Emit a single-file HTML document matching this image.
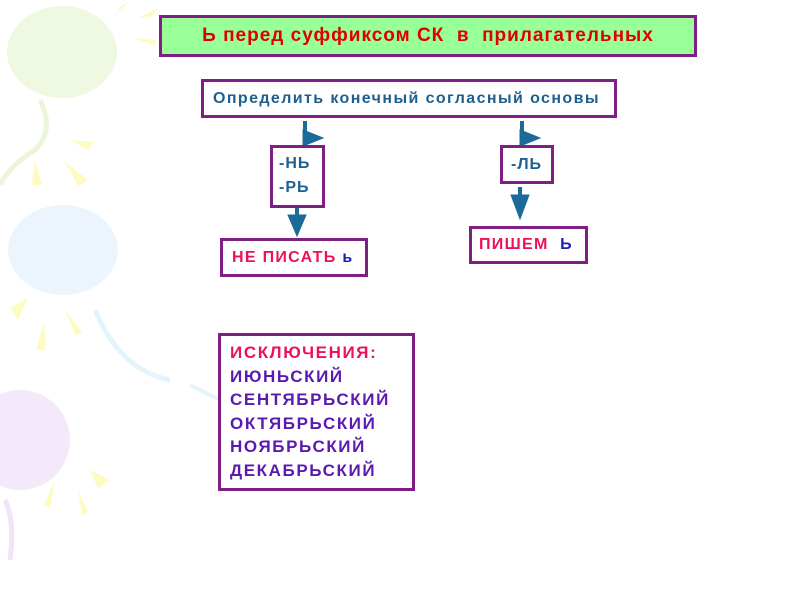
<!DOCTYPE html>
<html><head><meta charset="utf-8"><style>
body{margin:0;width:800px;height:600px;background:#fff;position:relative;overflow:hidden;font-family:"Liberation Sans","DejaVu Sans",sans-serif;font-weight:bold}
.b{position:absolute;box-sizing:border-box;border:3px solid #7f1f85;background:#fff;white-space:nowrap}
</style></head><body>
<svg width="800" height="600" style="position:absolute;left:0;top:0">
<g opacity="0.9">
<ellipse cx="62" cy="52" rx="55" ry="46" fill="#eef8de"/>
<path d="M40 100 Q55 130 35 150 Q10 165 0 185" stroke="#e8f4d6" stroke-width="5" fill="none"/>
<ellipse cx="63" cy="250" rx="55" ry="45" fill="#eaf5fd"/>
<path d="M95 310 Q120 370 170 380" stroke="#e3f2fc" stroke-width="5" fill="none"/>
<path d="M190 385 Q210 395 230 405" stroke="#e3f2fc" stroke-width="4" fill="none"/>
<ellipse cx="20" cy="440" rx="50" ry="50" fill="#f3e7fb"/>
<path d="M5 500 Q15 520 10 560" stroke="#efe0fa" stroke-width="5" fill="none"/>
</g>
<g fill="#fdfbc0">
<polygon points="115,15 128,3 122,5"/><polygon points="138,18 158,8 152,16"/><polygon points="132,38 155,40 155,45"/>
<polygon points="70,140 94,142 88,150"/><polygon points="35,160 42,185 32,185"/><polygon points="65,162 88,180 78,186"/>
<polygon points="10,308 28,298 18,320"/><polygon points="44,322 46,350 36,350"/><polygon points="65,310 82,332 76,336"/>
<polygon points="90,470 110,480 98,488"/><polygon points="55,480 44,505 50,508"/><polygon points="78,490 88,512 82,515"/>
</g>
<g fill="#1c6a98" stroke="#1c6a98">
<line x1="305" y1="121" x2="305" y2="142" stroke-width="4"/><polygon points="303,130 323,138 303,146"/>
<line x1="522" y1="121" x2="522" y2="142" stroke-width="4"/><polygon points="520,130 540,138 520,146"/>
<line x1="297" y1="207" x2="297" y2="222" stroke-width="4"/><polygon points="288,215 306,215 297,236"/>
<line x1="520" y1="187" x2="520" y2="200" stroke-width="4"/><polygon points="511,195 529,195 520,219"/>
</g>
</svg>
<div class="b" style="left:159px;top:15px;width:538px;height:42px;background:#99ff99;color:#e00000;font-size:19px;letter-spacing:1px;line-height:36px;text-align:center">Ь перед суффиксом СК&nbsp; в&nbsp; прилагательных</div>
<div class="b" style="left:201px;top:79px;width:416px;height:39px;color:#1f5f8f;font-size:16px;letter-spacing:1.4px;line-height:33px;padding-left:9px">Определить конечный согласный основы</div>
<div class="b" style="left:270px;top:145px;width:55px;height:63px;color:#1f5f8f;font-size:16px;letter-spacing:1px;line-height:24px;padding:4px 0 0 6px">-НЬ<br>-РЬ</div>
<div class="b" style="left:500px;top:145px;width:54px;height:39px;color:#1f5f8f;font-size:16px;letter-spacing:1px;line-height:33px;padding-left:8px">-ЛЬ</div>
<div class="b" style="left:220px;top:238px;width:148px;height:39px;color:#ee1155;font-size:16px;letter-spacing:1.3px;line-height:33px;padding-left:9px">НЕ ПИСАТЬ <span style="color:#2020b0">ь</span></div>
<div class="b" style="left:469px;top:226px;width:119px;height:38px;color:#ee1155;font-size:16px;letter-spacing:1.3px;line-height:32px;padding-left:7px">ПИШЕМ&nbsp; <span style="color:#2020b0">Ь</span></div>
<div class="b" style="left:218px;top:333px;width:197px;height:158px;color:#5a1ab0;font-size:17px;letter-spacing:1.6px;line-height:23.5px;padding:5px 0 0 9px"><span style="color:#ee1155">ИСКЛЮЧЕНИЯ:</span><br>ИЮНЬСКИЙ<br>СЕНТЯБРЬСКИЙ<br>ОКТЯБРЬСКИЙ<br>НОЯБРЬСКИЙ<br>ДЕКАБРЬСКИЙ</div>
</body></html>
